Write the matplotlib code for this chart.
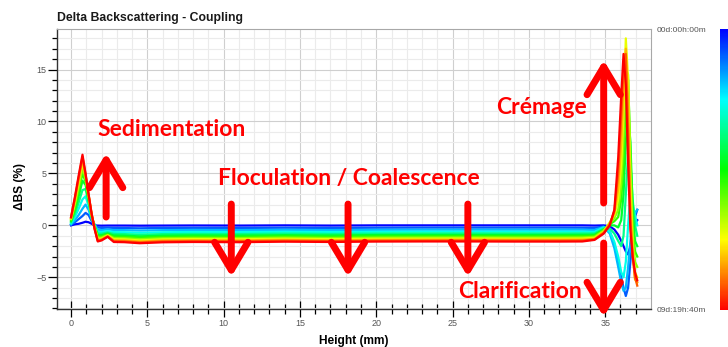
import matplotlib
matplotlib.use("Agg")
import matplotlib.pyplot as plt
from matplotlib.colors import LinearSegmentedColormap
from matplotlib.colorbar import ColorbarBase
from matplotlib.ticker import MultipleLocator

# Heights along the sample (mm) at which the profiles were read
heights_mm = [0.0, 0.25, 0.5, 0.75, 0.95, 1.15, 1.35, 1.55, 1.75, 2.0, 2.4, 2.8,
              3.5, 4.5, 6.0, 8.0, 11.0, 14.0, 17.0, 20.0, 23.0, 26.0, 29.0, 32.0, 33.5,
              34.3, 34.9, 35.3, 35.6, 35.85, 36.05, 36.2, 36.35, 36.5, 36.65, 36.8, 36.95, 37.1]

# Delta BS (%) per scan, first scan (blue) to last scan (red)
scan_profiles = [
    [0.0, 0.1, 0.15, 0.25, 0.35, 0.3, 0.15, 0.0, -0.02, -0.03, -0.02, -0.02,
     -0.02, -0.03, -0.02, -0.01, -0.02, 0.0, -0.02, 0.0, 0.0, 0.0, 0.0, 0.0, 0.0,
     -0.02, 0.0, -0.1, -0.4, -0.9, -1.5, -2.0, -2.5, -2.8, -2.0, -0.8, 0.2, 0.5],
    [0.05, 0.3, 0.6, 0.9, 1.2, 1.0, 0.4, 0.05, -0.2, -0.25, -0.22, -0.25,
     -0.26, -0.28, -0.25, -0.24, -0.25, -0.23, -0.25, -0.23, -0.22, -0.22, -0.22, -0.22, -0.23,
     -0.25, -0.1, -0.6, -1.8, -3.5, -5.0, -6.0, -6.8, -6.0, -3.5, -1.0, 0.8, 1.5],
    [0.1, 0.5, 1.0, 1.6, 2.0, 1.5, 0.6, 0.05, -0.42, -0.45, -0.4, -0.45,
     -0.46, -0.5, -0.46, -0.44, -0.45, -0.43, -0.45, -0.43, -0.42, -0.42, -0.42, -0.42, -0.42,
     -0.44, -0.15, -0.8, -2.2, -4.0, -5.5, -6.3, -6.0, -4.0, -1.5, 0.5, 1.2, 1.5],
    [0.2, 0.8, 1.6, 2.5, 2.8, 1.9, 0.7, 0.0, -0.62, -0.64, -0.55, -0.65,
     -0.66, -0.71, -0.66, -0.64, -0.65, -0.62, -0.64, -0.62, -0.61, -0.61, -0.61, -0.61, -0.61,
     -0.63, -0.2, -0.6, -1.6, -3.0, -4.5, -5.0, -3.5, 0.0, 3.0, 2.0, 1.0, 0.0],
    [0.3, 1.1, 2.2, 3.4, 3.5, 2.2, 0.8, -0.05, -0.8, -0.8, -0.68, -0.82,
     -0.84, -0.9, -0.84, -0.82, -0.83, -0.79, -0.82, -0.79, -0.78, -0.77, -0.78, -0.78, -0.77,
     -0.78, -0.3, -0.3, -0.8, -1.5, -2.0, -1.0, 3.0, 7.0, 6.0, 2.5, 0.0, -1.0],
    [0.4, 1.4, 2.8, 4.3, 3.9, 2.4, 0.85, -0.1, -0.95, -0.94, -0.78, -0.97,
     -0.99, -1.06, -0.99, -0.96, -0.98, -0.94, -0.97, -0.93, -0.92, -0.92, -0.92, -0.92, -0.91,
     -0.9, -0.4, 0.0, 0.0, -0.2, 0.5, 3.0, 8.0, 11.0, 8.0, 1.5, -1.5, -2.0],
    [0.5, 1.7, 3.3, 5.0, 4.2, 2.6, 0.9, -0.15, -1.08, -1.06, -0.86, -1.1,
     -1.12, -1.2, -1.12, -1.09, -1.11, -1.06, -1.1, -1.06, -1.05, -1.04, -1.05, -1.05, -1.04,
     -1.0, -0.45, 0.1, 0.4, 0.8, 2.5, 6.0, 12.0, 14.0, 7.0, 0.0, -2.5, -3.0],
    [0.6, 2.0, 3.7, 5.5, 4.5, 2.75, 0.95, -0.2, -1.2, -1.17, -0.92, -1.22,
     -1.24, -1.33, -1.24, -1.21, -1.23, -1.18, -1.22, -1.18, -1.17, -1.16, -1.17, -1.17, -1.16,
     -1.1, -0.5, 0.2, 0.7, 1.5, 4.0, 8.5, 15.0, 14.5, 6.0, -1.0, -3.5, -4.0],
    [0.65, 2.2, 4.1, 6.0, 4.7, 2.85, 1.0, -0.25, -1.3, -1.27, -0.97, -1.33,
     -1.35, -1.45, -1.35, -1.32, -1.34, -1.29, -1.33, -1.29, -1.28, -1.27, -1.28, -1.28, -1.27,
     -1.2, -0.6, 0.3, 1.0, 2.5, 6.0, 11.0, 18.0, 14.0, 4.0, -2.0, -4.5, -5.0],
    [0.7, 2.4, 4.4, 6.35, 4.8, 2.9, 1.05, -0.3, -1.4, -1.35, -1.03, -1.43,
     -1.45, -1.55, -1.45, -1.42, -1.44, -1.39, -1.43, -1.39, -1.38, -1.37, -1.38, -1.38, -1.37,
     -1.3, -0.65, 0.2, 1.2, 3.5, 8.0, 13.0, 17.0, 12.0, 2.0, -2.5, -5.2, -5.5],
    [0.75, 2.6, 4.6, 6.6, 4.9, 2.95, 1.1, -0.35, -1.48, -1.4, -1.07, -1.52,
     -1.54, -1.64, -1.54, -1.51, -1.53, -1.48, -1.52, -1.48, -1.47, -1.46, -1.47, -1.47, -1.46,
     -1.35, -0.72, 0.1, 1.4, 5.0, 10.5, 15.0, 16.5, 9.0, 0.5, -3.0, -5.0, -5.8],
    [0.8, 2.7, 4.8, 6.8, 5.0, 3.0, 1.1, -0.4, -1.55, -1.45, -1.1, -1.6,
     -1.62, -1.72, -1.63, -1.6, -1.62, -1.57, -1.6, -1.56, -1.55, -1.55, -1.56, -1.56, -1.55,
     -1.4, -0.8, 0.0, 1.5, 6.5, 12.5, 16.5, 13.5, 6.0, -0.5, -3.0, -4.5, -5.3],
]

time_start_label = "00d:00h:00m"
time_end_label = "09d:19h:40m"

# annotations (data coords)
labels_text = ["Sedimentation", "Floculation / Coalescence", "Crémage", "Clarification"]
labels_x = [6.6, 18.2, 30.8, 29.4]
labels_y = [9.2, 4.55, 11.3, -6.4]

arrows_x = [2.3, 10.5, 18.15, 26.0, 34.9, 34.9]
arrows_from = [0.8, 2.05, 2.05, 2.05, 2.15, -1.7]
arrows_to = [6.95, -4.95, -4.95, -4.95, 15.9, -8.8]

scan_cmap = LinearSegmentedColormap.from_list(
    "scan", ["#0000ff", "#00ffff", "#00ff00", "#ffff00", "#ff0000"])

fig = plt.figure(figsize=(7.28, 3.47), dpi=100)
ax = fig.add_axes([57 / 728, 1 - 309 / 347, 594 / 728, 280 / 347])

n = len(scan_profiles)
for i, prof in enumerate(scan_profiles):
    ax.plot(heights_mm, prof, color=scan_cmap(i / (n - 1)), lw=1.6, zorder=3)

ax.set_xlim(-0.92, 38.0)
ax.set_ylim(-8.05, 18.9)
ax.xaxis.set_major_locator(MultipleLocator(5))
ax.yaxis.set_major_locator(MultipleLocator(5))
ax.set_xticks(range(0, 38), minor=True)
ax.yaxis.set_minor_locator(MultipleLocator(1))
ax.set_xticks(range(0, 36, 5))

ax.grid(which="minor", color="#ebebeb", lw=0.8, zorder=0)
ax.grid(which="major", color="#cfcfcf", lw=0.8, zorder=0)
ax.set_axisbelow(True)

ax.tick_params(axis="x", which="major", direction="inout", length=11, width=0.9,
               labelsize=6.5, labelcolor="#555555", pad=2)
ax.tick_params(axis="x", which="minor", direction="inout", length=6.5, width=0.9)
ax.tick_params(axis="y", which="major", direction="out", length=6.5, width=0.9,
               labelsize=6.5, labelcolor="#555555", pad=1)
ax.tick_params(axis="y", which="minor", direction="out", length=3.8, width=0.9)

for s in ["top", "right"]:
    ax.spines[s].set_color("#a8a8a8")
for s in ["left", "bottom"]:
    ax.spines[s].set_color("#333333")
    ax.spines[s].set_linewidth(1.0)

ax.set_xlabel("Height (mm)", fontsize=8.6, fontweight="bold", family="Liberation Sans", labelpad=5)
ax.set_ylabel("ΔBS (%)", fontsize=8.6, fontweight="bold", family="Liberation Sans")
ax.yaxis.set_label_coords(-0.052, 0.436)
for lab in ax.get_xticklabels() + ax.get_yticklabels():
    lab.set_family("Liberation Sans")

fig.text(57 / 728, 1 - 18 / 347, "Delta Backscattering - Coupling", fontsize=8.8,
         fontweight="bold", family="Liberation Sans", va="center", ha="left", color="#1a1a1a")

# red process annotations
for txt, tx, ty in zip(labels_text, labels_x, labels_y):
    ax.text(tx, ty, txt, color="#ff0000", fontsize=16.5, fontweight="bold",
            family="Lato", ha="center", va="center", zorder=6)
for ax_x, y0, y1 in zip(arrows_x, arrows_from, arrows_to):
    ax.annotate("", xy=(ax_x, y1), xytext=(ax_x, y0), annotation_clip=False,
                arrowprops=dict(arrowstyle="->, head_length=1.0, head_width=0.6",
                                mutation_scale=20, lw=5, color="#ff0000",
                                shrinkA=0, shrinkB=0, capstyle="round",
                                joinstyle="round", clip_on=False),
                zorder=6)

# time colourbar
cax = fig.add_axes([720 / 728, 1 - 310 / 347, 12 / 728, 281 / 347])
ColorbarBase(cax, cmap=scan_cmap, orientation="vertical")
cax.invert_yaxis()
cax.set_xticks([])
cax.set_yticks([])
for s in cax.spines.values():
    s.set_visible(False)
fig.text(657 / 728, 1 - 31 / 347, time_start_label, fontsize=6, color="#555555",
         family="Liberation Sans", va="center", ha="left")
fig.text(657 / 728, 1 - 310 / 347, time_end_label, fontsize=6, color="#555555",
         family="Liberation Sans", va="center", ha="left")

fig.savefig("out.png", dpi=100)
